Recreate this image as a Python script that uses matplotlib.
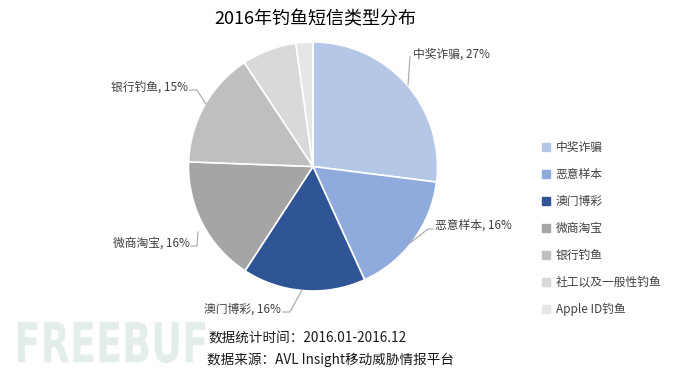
import matplotlib
matplotlib.use("Agg")
import matplotlib.pyplot as plt
from matplotlib.lines import Line2D
from matplotlib.textpath import TextPath
from matplotlib.patches import PathPatch
from matplotlib.font_manager import FontProperties
from matplotlib.transforms import Affine2D, IdentityTransform

plt.rcParams['font.family'] = ['Noto Sans CJK SC', 'DejaVu Sans']

# data
categories = ['中奖诈骗', '恶意样本', '澳门博彩', '微商淘宝', '银行钓鱼', '社工以及一般性钓鱼', 'Apple ID钓鱼']
shares = [27.0, 16.2, 16.0, 16.4, 15.1, 7.1, 2.2]
shown_pct = ['27%', '16%', '16%', '16%', '15%', None, None]
colors = ['#B4C7E7', '#8FAADC', '#2F5597', '#A5A5A5', '#BFBFBF', '#D9D9D9', '#E7E6E6']

# label placement (text anchor, alignment, leader line points) in pie units
label_pos = [
    ((0.803, 0.904), 'left', [(0.779, 0.880), (0.763, 0.655)]),
    ((0.980, -0.470), 'left', [(0.964, -0.502), (0.924, -0.502), (0.779, -0.614)]),
    ((-0.257, -1.145), 'right', [(-0.241, -1.169), (-0.185, -1.169), (-0.088, -0.992)]),
    ((-0.988, -0.614), 'right', [(-0.980, -0.639), (-0.932, -0.639), (-0.924, -0.526)]),
    ((-1.004, 0.639), 'right', [(-0.988, 0.614), (-0.932, 0.614), (-0.859, 0.502)]),
]

W, H = 673, 371
fig = plt.figure(figsize=(W / 100, H / 100), dpi=100)
fig.patch.set_facecolor('white')

# watermark, squeezed into its box (pixels)
tp = TextPath((0, 0), 'FREEBUF', size=1, prop=FontProperties(family='DejaVu Sans', weight='bold'))
ext = tp.get_extents()
wx0, wy0, ww, wh = 18, H - 363, 187, 41
tr = Affine2D().translate(-ext.x0, -ext.y0).scale(ww / ext.width, wh / ext.height).translate(wx0, wy0)
fig.patches.append(PathPatch(tr.transform_path(tp), facecolor='#E4EEE8', edgecolor='none',
                             transform=IdentityTransform(), figure=fig, zorder=0))

cx, cy, r = 313, 166.5, 124.5
ax = fig.add_axes([(cx - r) / W, (H - cy - r) / H, 2 * r / W, 2 * r / H])
ax.pie(shares, colors=colors, startangle=90, counterclock=False, radius=1,
       wedgeprops=dict(edgecolor='white', linewidth=1.2))
ax.set_xlim(-1, 1)
ax.set_ylim(-1, 1)
ax.axis('off')

for i, (txt_xy, ha, pts) in enumerate(label_pos):
    ax.text(txt_xy[0], txt_xy[1], f'{categories[i]}, {shown_pct[i]}', ha=ha, va='center',
            fontsize=8.5, color='#404040', clip_on=False)
    xs = [p[0] for p in pts]
    ys = [p[1] for p in pts]
    ax.plot(xs, ys, color='#A6A6A6', lw=0.8, clip_on=False)

fig.text(315 / W, 1 - 19 / H, '2016年钓鱼短信类型分布', ha='center', va='center',
         fontsize=13, color='#000000')

handles = [Line2D([0], [0], marker='s', linestyle='none', markersize=5.5,
                  markerfacecolor=c, markeredgecolor=c) for c in colors]
fig.legend(handles, categories, loc='upper left', bbox_to_anchor=(542 / W, 1 - 141 / H),
           frameon=False, fontsize=8.5, labelcolor='#404040', handlelength=0.7,
           handletextpad=0.45, labelspacing=1.18, borderaxespad=0, borderpad=0)

fig.text(208 / W, 1 - 338 / H, '数据统计时间：2016.01-2016.12', ha='left', va='center',
         fontsize=9.8, color='#1a1a1a')
fig.text(207 / W, 1 - 360 / H, '数据来源：AVL Insight移动威胁情报平台', ha='left', va='center',
         fontsize=9.8, color='#1a1a1a')

fig.savefig('out.png', dpi=100)
